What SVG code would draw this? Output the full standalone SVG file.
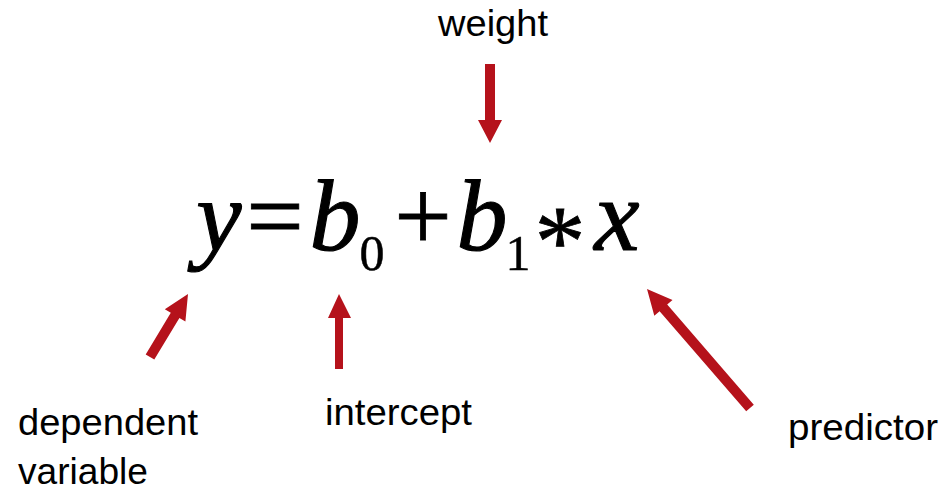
<svg xmlns="http://www.w3.org/2000/svg" width="945" height="491" viewBox="0 0 945 491">
<style>
.lbl{font-family:"Liberation Sans",Arial,sans-serif;font-size:37px;fill:#000}
.m{font-family:"Liberation Serif","Times New Roman",serif;font-size:102px;fill:#000;text-anchor:middle;stroke:#000;stroke-width:0.8}
.it{font-style:italic;stroke-width:1.1}
.sub{font-size:50px;stroke-width:0.5}
.arr{fill:#b5121b}
</style>
<g id="equation">
<text class="m it" x="219" y="250">y</text>
<text class="m" x="275" y="250">=</text>
<text class="m it" x="335" y="250">b</text>
<text class="m sub" x="372" y="270">0</text>
<text class="m" x="423" y="250">+</text>
<text class="m it" x="482" y="250">b</text>
<text class="m sub" x="518" y="270">1</text>
<text class="m" x="560" y="276" font-size="104">*</text>
<text class="m it" x="617" y="250">x</text>
</g>
<g id="weight"><text class="lbl" x="438" y="36" textLength="110" lengthAdjust="spacingAndGlyphs">weight</text></g>
<g id="dependent"><text class="lbl" x="18" y="435" textLength="180" lengthAdjust="spacingAndGlyphs">dependent</text><text class="lbl" x="18" y="484" textLength="130" lengthAdjust="spacingAndGlyphs">variable</text></g>
<g id="intercept"><text class="lbl" x="325" y="425" textLength="147" lengthAdjust="spacingAndGlyphs">intercept</text></g>
<g id="predictor"><text class="lbl" x="788" y="440" textLength="150" lengthAdjust="spacingAndGlyphs">predictor</text></g>
<g id="connectors">
<polygon class="arr" points="485,64 495,64 495,120 502,120 490,143 478,120 485,120"/>
<polygon class="arr" points="335,369 343,369 343,318 351,318 339,294 328,318 335,318"/>
<polygon class="arr" points="145.7,354.4 170.8,312.8 164.8,309.2 188,294 185.4,321.6 179.4,318 154.3,359.6"/>
<polygon class="arr" points="746.2,411.3 659.6,311.2 654.3,315.7 647,289 672.5,300.1 667.2,304.6 753.8,404.7"/>
</g>
</svg>
